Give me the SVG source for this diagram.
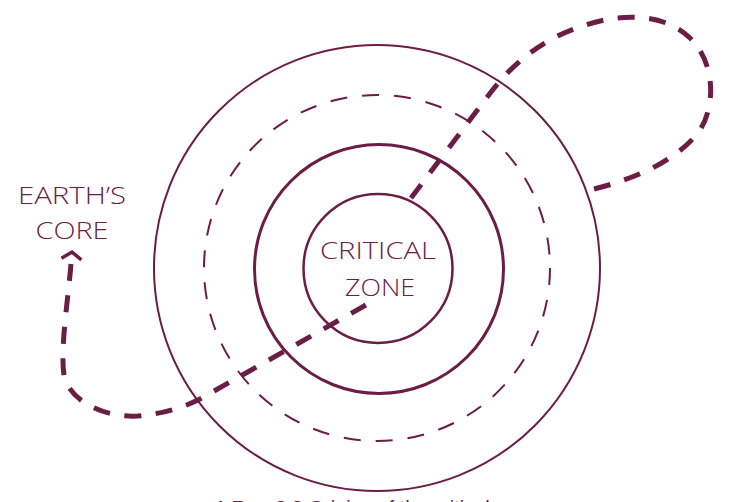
<svg xmlns="http://www.w3.org/2000/svg" width="732" height="502" viewBox="0 0 732 502">
  <style>
    .ring { fill: none; stroke: #6b1d45; }
    .outer { stroke-width: 2; }
    .halo { stroke-width: 2; stroke-dasharray: 17 15; }
    .mid { stroke-width: 3; }
    .core { stroke-width: 2.5; }
    .flow { fill: none; stroke: #6b1d45; stroke-width: 5; stroke-dasharray: 17 14.5; }
    .label { font-family: "Open Sans", "Liberation Sans", Arial, sans-serif; font-weight: 300; font-size: 24px; fill: #6b1d45; text-anchor: middle; }
    .caption { font-family: "Liberation Sans", Arial, sans-serif; font-size: 20px; fill: #6b1d45; }
  </style>
  <defs>
    <marker id="chevron" markerUnits="userSpaceOnUse" orient="auto-start-reverse" markerWidth="30" markerHeight="30" refX="0" refY="0" viewBox="-15 -15 30 30" overflow="visible">
      <path d="M 5 -10 L 12 0 L 5 10" fill="none" stroke="#6b1d45" stroke-width="3.5" stroke-linejoin="miter"/>
    </marker>
  </defs>
  <rect width="732" height="502" fill="#ffffff"/>

  <!-- concentric rings -->
  <g id="ring-outer"><circle class="ring outer" cx="377" cy="268" r="223"/></g>
  <g id="ring-dashed"><circle class="ring halo" cx="377" cy="268" r="173"/></g>
  <g id="ring-middle"><circle class="ring mid" cx="379" cy="269" r="124.5"/></g>

  <!-- flow line from the far loop down to Earth's core -->
  <g id="connectors">
    <path class="flow" marker-start="url(#chevron)" d="M 71 264 C 68 300, 60 350, 64 375 C 68 398, 100 418, 138 416 C 160 414, 180 409, 200 399 L 373 301"/>
    <path class="flow" d="M 411 198 L 488 96 C 510 66, 540 40, 580 27 C 620 12, 665 13, 690 38 C 715 62, 716 105, 700 130 C 680 158, 640 178, 590 190"/>
  </g>

  <g id="critical-zone">
    <circle class="ring core" cx="378" cy="268.5" r="74.5"/>
    <text class="label" x="378" y="259" textLength="116" lengthAdjust="spacingAndGlyphs">CRITICAL</text>
    <text class="label" x="380" y="296" textLength="70" lengthAdjust="spacingAndGlyphs">ZONE</text>
  </g>

  <g id="earths-core">
    <text class="label" x="72" y="204" textLength="108" lengthAdjust="spacingAndGlyphs">EARTH’S</text>
    <text class="label" x="72" y="239" textLength="73" lengthAdjust="spacingAndGlyphs">CORE</text>
  </g>

  <text class="caption" x="214" y="515">A <tspan font-weight="bold">Box 2.2</tspan> Origins of the critical zone</text>
</svg>
